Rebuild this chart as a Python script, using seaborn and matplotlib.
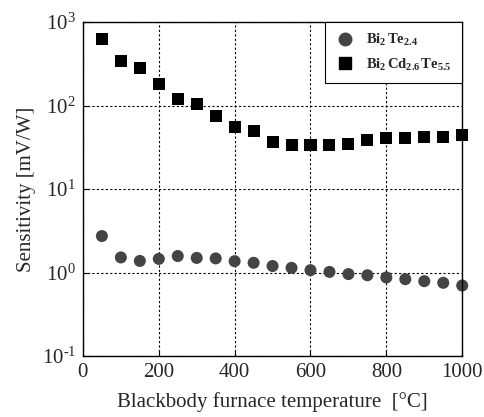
import seaborn as sns
import matplotlib.pyplot as plt
from matplotlib.ticker import FixedFormatter
import pandas as pd

# Data
temperature = [50, 100, 150, 200, 250, 300, 350, 400, 450, 500,
               550, 600, 650, 700, 750, 800, 850, 900, 950, 1000]
bi2te = [2.74, 1.52, 1.38, 1.46, 1.58, 1.50, 1.48, 1.37, 1.31, 1.20,
         1.14, 1.07, 1.02, 0.96, 0.93, 0.875, 0.835, 0.79, 0.755, 0.70]
bi2cdte = [625, 341, 281, 181, 120, 104, 75, 55, 49.5, 37,
           34, 34, 33.6, 35, 39, 40.5, 41, 41.6, 42.3, 44]
labels = [r'$\mathbf{Bi_{2}\,Te_{2.4}}$', r'$\mathbf{Bi_{2}\,Cd_{2.6}\,Te_{5.5}}$']
x_ticks = [0, 200, 400, 600, 800, 1000]
y_ticks = [0.1, 1, 10, 100, 1000]
y_ticklabels = [r'$10^{\text{-}1}$', r'$10^{0}$', r'$10^{1}$', r'$10^{2}$', r'$10^{3}$']

df = pd.concat([
    pd.DataFrame({'T': temperature, 'S': bi2te, 'sample': labels[0]}),
    pd.DataFrame({'T': temperature, 'S': bi2cdte, 'sample': labels[1]}),
])

sns.set_style('white')
plt.rcParams['font.family'] = ['Liberation Serif', 'DejaVu Serif']
plt.rcParams['mathtext.fontset'] = 'custom'
plt.rcParams['mathtext.rm'] = 'Liberation Serif'
plt.rcParams['mathtext.bf'] = 'Liberation Serif:bold'
plt.rcParams['mathtext.it'] = 'Liberation Serif:italic'

fig = plt.figure(figsize=(4.85, 4.17), dpi=100)
ax = fig.add_axes([0.171, 0.146, 0.782, 0.801])

sns.scatterplot(data=df, x='T', y='S', hue='sample', style='sample',
                palette={labels[0]: '#444444', labels[1]: 'black'},
                markers={labels[0]: 'o', labels[1]: 's'},
                s=75, linewidth=0, ax=ax, clip_on=False, legend=False)

ax.set_yscale('log')
ax.set_xlim(0, 1000)
ax.set_ylim(0.1, 1000)
ax.set_xticks(x_ticks)
ax.set_yticks(y_ticks)
ax.yaxis.set_major_formatter(FixedFormatter(y_ticklabels))
ax.minorticks_off()
ax.tick_params(direction='in', length=4, width=0.8, color='black',
               labelsize=15, pad=5, left=True, bottom=True)
ax.grid(True, color='black', linestyle=(0, (2, 2)), linewidth=0.8)

for sp in ax.spines.values():
    sp.set_color('black')
    sp.set_linewidth(1.0)

ax.set_xlabel('Blackbody furnace temperature  [°C]', fontsize=15, labelpad=7)
ax.set_ylabel('Sensitivity [mV/W]', fontsize=15, labelpad=4)

handles = [
    plt.Line2D([], [], marker='o', color='#444444', linestyle='none', markersize=9),
    plt.Line2D([], [], marker='s', color='black', linestyle='none', markersize=9),
]
leg = ax.legend(handles, labels, loc='upper right', bbox_to_anchor=(1.0, 1.0),
                fontsize=10.5, frameon=True, fancybox=False, framealpha=1,
                edgecolor='black', borderaxespad=0, handletextpad=0.8,
                handlelength=1.3, borderpad=0.7, labelspacing=0.55)
leg.get_frame().set_linewidth(0.8)

fig.savefig('out.png', dpi=100)
